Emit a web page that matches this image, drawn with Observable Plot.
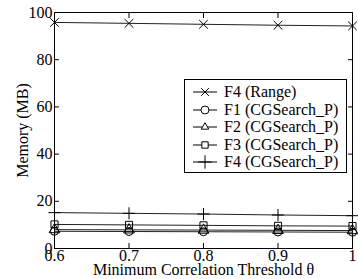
<!DOCTYPE html>
<html>
<head>
<meta charset="utf-8">
<script src="https://cdn.jsdelivr.net/npm/d3@7"></script>
<script src="https://cdn.jsdelivr.net/npm/@observablehq/plot@0.6"></script>
<style>
  html, body { margin: 0; padding: 0; background: #fff; }
  #wrap { position: relative; width: 358px; height: 279px; font-family: "Liberation Serif", "Times New Roman", serif; }
  #legend { position: absolute; left: 184px; top: 79px; width: 163px; height: 94px; border: 1px solid #000; background: #fff; box-sizing: border-box; font-family: "Liberation Serif", "Times New Roman", serif; }
  .row { position: absolute; left: 0; height: 18px; display: flex; align-items: center; font-size: 16px; color: #000; white-space: nowrap; font-family: "Liberation Serif", "Times New Roman", serif; }
  .row svg { margin-left: 8px; margin-right: 7px; }
</style>
</head>
<body>
<div id="wrap"></div>
<script>
const thresholds = [0.6, 0.7, 0.8, 0.9, 1.0];
const xTickLabels = ["0.6", "0.7", "0.8", "0.9", "1"];
const yTicks = [0, 20, 40, 60, 80, 100];
const seriesNames = ["F4 (Range)", "F1 (CGSearch_P)", "F2 (CGSearch_P)", "F3 (CGSearch_P)", "F4 (CGSearch_P)"];
const seriesSymbols = ["times", "circle", "triangle", "square", "plus"];
const f4Range = [95.8, 95.4, 95.0, 94.6, 94.3];
const f1CG = [7.3, 7.2, 7.1, 7.0, 6.9];
const f2CG = [8.0, 7.9, 7.8, 7.7, 7.6];
const f3CG = [10.2, 10.0, 9.8, 9.6, 9.5];
const f4CG = [15.2, 14.9, 14.6, 14.2, 13.9];

const seriesValues = [f4Range, f1CG, f2CG, f3CG, f4CG];
const data = seriesNames.flatMap((name, i) =>
  thresholds.map((t, j) => ({series: name, symbol: seriesSymbols[i], x: t, y: seriesValues[i][j]}))
);

const font = "Liberation Serif, Times New Roman, serif";
const chart = Plot.plot({
  width: 358,
  height: 279,
  marginLeft: 54,
  marginRight: 6,
  marginTop: 12,
  marginBottom: 31,
  style: {fontFamily: font, fontSize: "16px", color: "#000", background: "#fff"},
  x: {domain: [0.6, 1.0]},
  y: {domain: [0, 100]},
  symbol: {domain: seriesSymbols, range: seriesSymbols},
  marks: [
    Plot.frame({stroke: "#000", strokeWidth: 1}),
    Plot.axisX(thresholds, {anchor: "bottom", tickSize: -5, tickPadding: 6, tickFormat: (d, i) => xTickLabels[i], fontSize: 16, fontFamily: font, label: "Minimum Correlation Threshold θ", labelAnchor: "center", labelArrow: "none", labelOffset: 26}),
    Plot.axisX(thresholds, {anchor: "top", tickSize: -5, tickFormat: () => "", label: null}),
    Plot.axisY(yTicks, {anchor: "left", tickSize: -5, tickPadding: 7, fontSize: 16, fontFamily: font, label: "Memory (MB)", labelAnchor: "center", labelArrow: "none", labelOffset: 38}),
    Plot.axisY(yTicks, {anchor: "right", tickSize: -5, tickFormat: () => "", label: null}),
    Plot.line(data, {x: "x", y: "y", z: "series", stroke: "#222", strokeWidth: 1}),
    Plot.dot(data, {x: "x", y: "y", symbol: "symbol", stroke: "#000", fill: "none", r: 4, strokeWidth: 1})
  ]
});

const wrap = document.getElementById("wrap");
wrap.appendChild(chart);
chart.querySelectorAll("text").forEach(t => { t.setAttribute("font-family", font); t.style.fontFamily = font; t.style.fontSize = "16px"; t.style.fontWeight = "normal"; });

// legend
const legend = document.createElement("div");
legend.id = "legend";
const sym = {
  times: d3.symbolTimes, circle: d3.symbolCircle, triangle: d3.symbolTriangle2, square: d3.symbolSquare, plus: d3.symbolPlus
};
const sizes = {times: 40, circle: 50, triangle: 40, square: 40, plus: 60};
seriesNames.forEach((name, i) => {
  const row = document.createElement("div");
  row.className = "row";
  row.style.top = (3 + i * 17.6) + "px";
  const s = seriesSymbols[i];
  const path = d3.symbol(sym[s], sizes[s])();
  row.innerHTML = `<svg width="24" height="14" viewBox="-12 -7 24 14"><line x1="-12" x2="12" y1="0" y2="0" stroke="#000" stroke-width="1"/><path d="${path}" fill="${s === "times" || s === "plus" ? "none" : "#fff"}" stroke="#000" stroke-width="1"/></svg><span>${name}</span>`;
  legend.appendChild(row);
});
wrap.appendChild(legend);
</script>
</body>
</html>
